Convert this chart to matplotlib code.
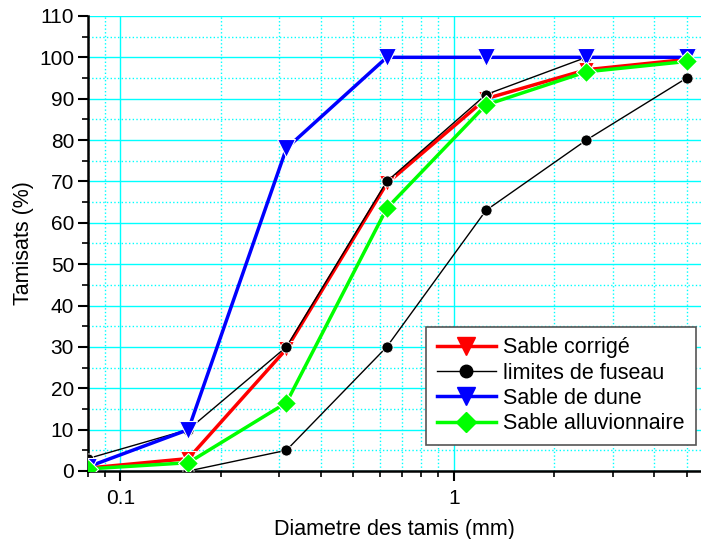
import matplotlib.pyplot as plt
from matplotlib.ticker import LogLocator, FixedLocator, MultipleLocator, NullFormatter
from matplotlib.lines import Line2D

plt.rcParams['font.family'] = ['Liberation Sans', 'DejaVu Sans']

# Ouvertures des tamis (mm)
tamis = [0.08, 0.16, 0.315, 0.63, 1.25, 2.5, 5.0]

# Tamisats cumulés (%)
sable_corrige = [0.7, 3.0, 29.5, 69.5, 90.0, 97.0, 99.5]
fuseau_sup = [3.0, 10.0, 30.0, 70.0, 91.0, 100.0, 100.0]
tamis_inf = [0.16, 0.315, 0.63, 1.25, 2.5, 5.0]
fuseau_inf = [0.0, 5.0, 30.0, 63.0, 80.0, 95.0]
sable_dune = [1.0, 10.0, 78.0, 100.0, 100.0, 100.0, 100.0]
sable_alluv = [0.5, 2.0, 16.5, 63.5, 88.5, 96.5, 99.0]

fig = plt.figure(figsize=(7.01, 5.39), dpi=100)
ax = fig.add_axes([0.1255, 0.1262, 0.8745, 0.8442])

ax.plot(tamis, sable_corrige, color='red', lw=2.5, marker='v', ms=12,
        mec='white', mew=0.8, mfc='red', zorder=3)
for xs, ys in [(tamis, fuseau_sup), (tamis_inf, fuseau_inf)]:
    ax.plot(xs, ys, color='black', lw=1, marker='o', ms=8, mec='white',
            mew=0.6, mfc='black', zorder=4)
ax.plot(tamis, sable_dune, color='blue', lw=2.5, marker='v', ms=13,
        mec='white', mew=0.8, mfc='blue', zorder=5)
ax.plot(tamis, sable_alluv, color='#00ff00', lw=2.5, marker='D', ms=10,
        mec='white', mew=0.8, mfc='#00ff00', zorder=6)

ax.set_xscale('log')
ax.set_xlim(0.08, 10 ** ((701 - 454) / 333.0))
ax.set_ylim(0, 110)

ax.xaxis.set_major_locator(FixedLocator([0.1, 1]))
ax.set_xticklabels(['0.1', '1'])
ax.xaxis.set_minor_locator(LogLocator(base=10, subs=range(2, 10)))
ax.xaxis.set_minor_formatter(NullFormatter())
ax.yaxis.set_major_locator(MultipleLocator(10))
ax.yaxis.set_minor_locator(MultipleLocator(5))

ax.grid(True, which='major', color='#00ffff', lw=1, ls='-', zorder=0)
ax.grid(True, which='minor', color='#00ffff', lw=1, ls=':', zorder=0)
ax.set_axisbelow(True)

for s in ['top', 'right']:
    ax.spines[s].set_visible(False)
for s in ['left', 'bottom']:
    ax.spines[s].set_linewidth(1.8)

ax.tick_params(which='major', direction='out', length=7, width=1.5,
               labelsize=15, pad=3)
ax.tick_params(which='minor', direction='out', length=4, width=1.2)
ax.tick_params(axis='x', which='major', pad=6)

ax.set_xlabel('Diametre des tamis (mm)', fontsize=15.5, labelpad=8)
ax.set_ylabel('Tamisats (%)', fontsize=15.5)
ax.yaxis.set_label_coords(-0.088, 0.5)

handles = [
    Line2D([], [], color='red', lw=2.5, marker='v', ms=13, mfc='red', mec='red'),
    Line2D([], [], color='black', lw=1, marker='o', ms=9, mfc='black'),
    Line2D([], [], color='blue', lw=2.5, marker='v', ms=13, mfc='blue', mec='blue'),
    Line2D([], [], color='#00ff00', lw=2.5, marker='D', ms=10, mfc='#00ff00', mec='#00ff00'),
]
labels = ['Sable corrigé', 'limites de fuseau', 'Sable de dune', 'Sable alluvionnaire']
leg = ax.legend(handles, labels, loc='lower left', bbox_to_anchor=(0.551, 0.057),
                fontsize=15.5, frameon=True, fancybox=False, framealpha=1,
                edgecolor='#555555', handlelength=2.75, handletextpad=0.35,
                labelspacing=0.2, borderpad=0.5, borderaxespad=0)
leg.get_frame().set_linewidth(1.2)

fig.savefig('out.png', dpi=100)
